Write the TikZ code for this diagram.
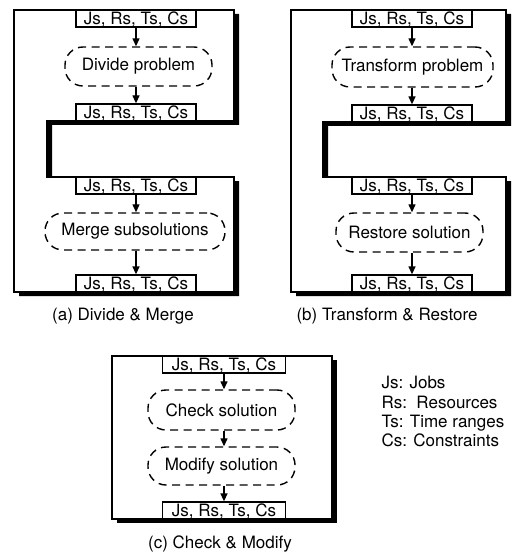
\documentclass[tikz,border=0pt]{standalone}
\usepackage{fontspec}
\setmainfont{TeX Gyre Heros}
\usetikzlibrary{arrows.meta}
\begin{document}
\begin{tikzpicture}[x=1pt,y=-1pt,
  every node/.style={font=\fontsize{17}{20}\selectfont},
  databox/.style={draw,line width=1.3pt,minimum width=120pt,minimum height=17pt,inner sep=0pt,text depth=0pt,fill=white},
  procbox/.style={draw,line width=1.4pt,dash pattern=on 8pt off 5.5pt,rounded corners=18pt,inner sep=0pt},
  arr/.style={line width=1.3pt,-{Triangle[length=8pt,width=7pt]}},
  framebox/.style={draw,line width=1.3pt,fill=white},
  shadowbox/.style={fill=black}]
\useasboundingbox (0,0) rectangle (513,556);
\fill[white] (0,0) rectangle (513,556);

% ---------- panel (a) ----------
\fill[shadowbox,shift={(5,4)}] (14,10) -- (234,10) -- (234,121) -- (47,121) -- (47,177) -- (234,177) -- (234,292) -- (14,292) -- cycle;
\path[framebox] (14,10) -- (234,10) -- (234,121) -- (47,121) -- (47,177) -- (234,177) -- (234,292) -- (14,292) -- cycle;
\node[databox] (a1) at (136,18.5) {Js, Rs, Ts, Cs};
\node[procbox,minimum width=147pt,minimum height=39pt] (ap1) at (138.5,66.5) {Divide problem};
\node[databox] (a2) at (136,112.5) {Js, Rs, Ts, Cs};
\node[databox] (a3) at (136,185.5) {Js, Rs, Ts, Cs};
\node[procbox,minimum width=180pt,minimum height=37pt] (ap2) at (135,231.5) {Merge subsolutions};
\node[databox] (a4) at (136,283.5) {Js, Rs, Ts, Cs};
\draw[arr] (a1.south) -- (a1.south |- ap1.north);
\draw[arr] (ap1.south -| a2.north) -- (a2.north);
\draw[arr] (a3.south) -- (a3.south |- ap2.north);
\draw[arr] (ap2.south -| a4.north) -- (a4.north);
\node[anchor=base] (capa) at (123,320) {(a) Divide \& Merge};

% ---------- panel (b) ----------
\fill[shadowbox,shift={(5,4)}] (291,10) -- (506,10) -- (506,122) -- (323,122) -- (323,177) -- (506,177) -- (506,292) -- (291,292) -- cycle;
\path[framebox] (291,10) -- (506,10) -- (506,122) -- (323,122) -- (323,177) -- (506,177) -- (506,292) -- (291,292) -- cycle;
\node[databox] (b1) at (412,18.5) {Js, Rs, Ts, Cs};
\node[procbox,minimum width=161pt,minimum height=40pt] (bp1) at (412.5,67) {Transform problem};
\node[databox] (b2) at (412,113.5) {Js, Rs, Ts, Cs};
\node[databox] (b3) at (412,185.5) {Js, Rs, Ts, Cs};
\node[procbox,minimum width=147pt,minimum height=39pt] (bp2) at (409.5,232.5) {Restore solution};
\node[databox] (b4) at (412,283.5) {Js, Rs, Ts, Cs};
\draw[arr] (b1.south) -- (b1.south |- bp1.north);
\draw[arr] (bp1.south -| b2.north) -- (b2.north);
\draw[arr] (b3.south) -- (b3.south |- bp2.north);
\draw[arr] (bp2.south -| b4.north) -- (b4.north);
\node[anchor=base] (capb) at (387,320) {(b) Transform \& Restore};

% ---------- panel (c) ----------
\fill[shadowbox,shift={(5,4)}] (112,356) rectangle (332,519);
\path[framebox] (112,356) rectangle (332,519);
\node[databox,minimum width=123pt] (c1) at (224,364.5) {Js, Rs, Ts, Cs};
\node[procbox,minimum width=147pt,minimum height=40pt] (cp1) at (221.5,410) {Check solution};
\node[procbox,minimum width=147pt,minimum height=38pt] (cp2) at (221.5,466) {Modify solution};
\node[databox,minimum width=123pt] (c2) at (224,510.5) {Js, Rs, Ts, Cs};
\draw[arr] (c1.south) -- (c1.south |- cp1.north);
\draw[arr] (cp1.south -| c1.south) -- (cp2.north -| c1.south);
\draw[arr] (cp2.south -| c2.north) -- (c2.north);
\node[anchor=base] (capc) at (220,548) {(c) Check \& Modify};

% ---------- legend ----------
\node[anchor=base west] (lj) at (378,388) {Js: Jobs};
\node[anchor=base west] (lr) at (378,408) {Rs:\ \ Resources};
\node[anchor=base west] (lt) at (378,427) {Ts: Time ranges};
\node[anchor=base west] (lc) at (378,446) {Cs: Constraints};
\end{tikzpicture}
\end{document}
